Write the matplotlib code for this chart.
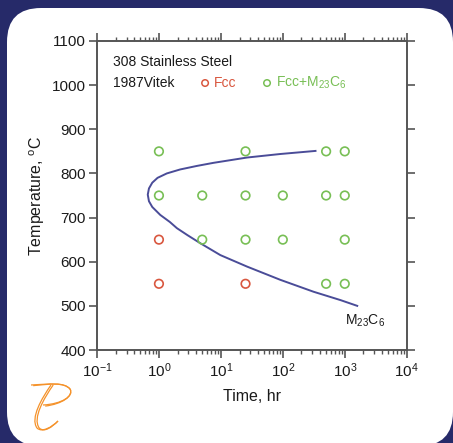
import matplotlib
matplotlib.use('Agg')
import matplotlib.pyplot as plt
from matplotlib.patches import FancyBboxPatch, PathPatch
from matplotlib.path import Path
from matplotlib.ticker import LogLocator, NullFormatter

plt.rcParams['font.family'] = ['Liberation Sans', 'DejaVu Sans']
plt.rcParams['mathtext.fontset'] = 'custom'
plt.rcParams['mathtext.rm'] = 'Liberation Sans'
plt.rcParams['mathtext.it'] = 'Liberation Sans'
plt.rcParams['mathtext.default'] = 'regular'

# Datos
fcc_time = [1, 1, 25]
fcc_temp = [650, 550, 550]

m23_time = [1, 25, 500, 1000,
            1, 5, 25, 100, 500, 1000,
            5, 25, 100, 1000,
            500, 1000]
m23_temp = [850, 850, 850, 850,
            750, 750, 750, 750, 750, 750,
            650, 650, 650, 650,
            550, 550]

# Curva C de precipitación M23C6
curve_time = [337, 91, 26.4, 7.6, 4.1, 2.2, 1.34, 0.95, 0.78, 0.69, 0.66,
              0.69, 0.78, 1.05, 1.5, 1.95, 2.9, 4.64, 9.8, 26.4, 91, 313, 855, 1590]
curve_temp = [851, 844, 836, 824, 817, 809, 800, 790, 779, 766, 752,
              737, 724, 706, 690, 676, 660, 642, 615, 589, 559, 532, 513, 500]

red = '#d9573f'
green = '#78bf55'
navy = '#4a4c98'

fig = plt.figure(figsize=(4.53, 4.43), dpi=100)
fig.patch.set_facecolor('#262a69')

# Tarjeta blanca de fondo y logo
bg = fig.add_axes([0, 0, 1, 1])
bg.set_xlim(0, 453)
bg.set_ylim(443, 0)
bg.axis('off')
card = FancyBboxPatch((7, 8), 446, 438, boxstyle='round,pad=0,rounding_size=34',
                      facecolor='white', edgecolor='none')
bg.add_patch(card)

orange = '#f5922a'
for dx in (0, 2.2):
    top = Path([(31 + dx, 385 + dx * 0.3), (50, 384), (64, 382), (70, 389),
                (74, 396), (62, 404), (43 + dx, 405 + dx * 0.5)],
               [Path.MOVETO, Path.CURVE4, Path.CURVE4, Path.CURVE4,
                Path.CURVE4, Path.CURVE4, Path.CURVE4])
    bg.add_patch(PathPatch(top, facecolor='none', edgecolor=orange, lw=0.9))
    stem = Path([(51 + dx, 385), (42 + dx, 398), (30 + dx, 418), (37 + dx, 428),
                 (42 + dx, 433), (52, 427), (58, 421)],
                [Path.MOVETO, Path.CURVE4, Path.CURVE4, Path.CURVE4,
                 Path.CURVE4, Path.CURVE4, Path.CURVE4])
    bg.add_patch(PathPatch(stem, facecolor='none', edgecolor=orange, lw=0.9))

ax = fig.add_axes([97 / 453, 1 - 350 / 443, 309.7 / 453, 309 / 443])
ax.set_facecolor('white')

ax.plot(curve_time, curve_temp, color=navy, lw=1.4, zorder=2, solid_joinstyle='round')
ax.scatter(fcc_time, fcc_temp, s=38, facecolors='none', edgecolors=red, linewidths=1.2, zorder=3)
ax.scatter(m23_time, m23_temp, s=38, facecolors='none', edgecolors=green, linewidths=1.2, zorder=3)

ax.set_xscale('log')
ax.set_xlim(0.1, 1e4)
ax.set_ylim(400, 1100)
ax.set_yticks(range(400, 1101, 100))
ax.xaxis.set_major_locator(LogLocator(base=10, numticks=10))
ax.xaxis.set_minor_locator(LogLocator(base=10, subs=range(2, 10), numticks=10))
ax.xaxis.set_minor_formatter(NullFormatter())

for s in ax.spines.values():
    s.set_color('#555555')
    s.set_linewidth(1.4)

ax.tick_params(axis='both', which='major', direction='out', length=6, width=1.2,
               color='#555555', labelsize=11, labelcolor='#1a1a1a', pad=2)
ax.tick_params(axis='x', which='minor', direction='out', length=3, width=1.0, color='#555555')
ax.tick_params(axis='x', which='both', top=True)
ax.tick_params(axis='y', which='major', right=True)

ax.set_xlabel('Time, hr', fontsize=11.5, color='#1a1a1a')
ax.set_ylabel('Temperature, $^{o}$C', fontsize=11.5, color='#1a1a1a')
ax.xaxis.set_label_coords(0.5, -0.125)
ax.yaxis.set_label_coords(-0.16, 0.5)

# Textos y leyenda dentro del gráfico
ax.text(0.052, 0.932, '308 Stainless Steel', transform=ax.transAxes, fontsize=10,
        color='#1a1a1a', va='center')
ax.text(0.052, 0.864, '1987Vitek', transform=ax.transAxes, fontsize=10,
        color='#1a1a1a', va='center')
ax.scatter([0.349], [0.864], s=22, facecolors='none', edgecolors=red, linewidths=1.1,
           transform=ax.transAxes, clip_on=False)
ax.text(0.378, 0.864, 'Fcc', transform=ax.transAxes, fontsize=10, color=red, va='center')
ax.scatter([0.549], [0.864], s=22, facecolors='none', edgecolors=green, linewidths=1.1,
           transform=ax.transAxes, clip_on=False)
ax.text(0.578, 0.864, 'Fcc+M$_{23}$C$_{6}$', transform=ax.transAxes, fontsize=10,
        color=green, va='center')
ax.text(0.80, 0.095, 'M$_{23}$C$_{6}$', transform=ax.transAxes, fontsize=10,
        color='#1a1a1a', va='center')

fig.savefig('out.png', dpi=100, facecolor=fig.get_facecolor())
